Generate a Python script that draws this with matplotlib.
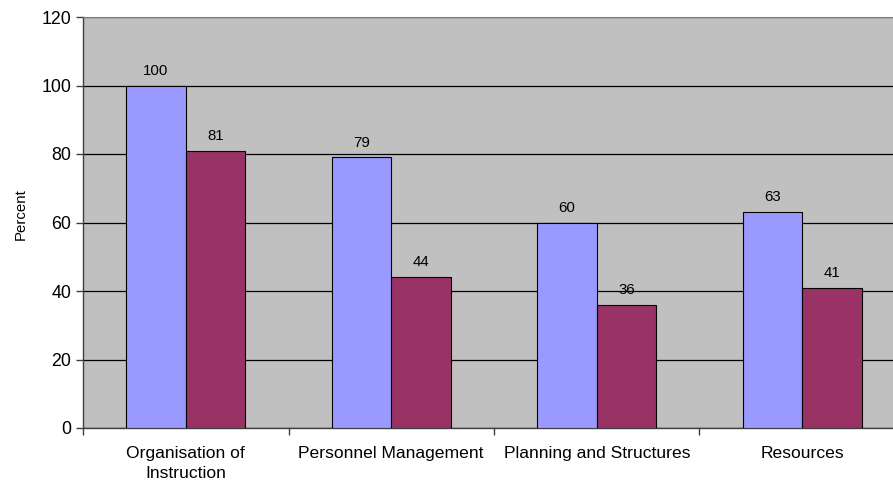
import matplotlib.pyplot as plt
import numpy as np

plt.rcParams['font.family'] = ['Liberation Sans', 'DejaVu Sans']

categories = ['Organisation of\nInstruction', 'Personnel Management',
              'Planning and Structures', 'Resources']
series_a = [100, 79, 60, 63]
series_b = [81, 44, 36, 41]

fig = plt.figure(figsize=(8.93, 4.92), dpi=100)
# plot area runs slightly past the right edge, like the original
ax = fig.add_axes([83 / 893, 1 - 428 / 492, 822 / 893, 411 / 492])
ax.set_facecolor('#C0C0C0')

x = np.arange(len(categories))
w = 0.29
bars_a = ax.bar(x, series_a, -w, align='edge', color='#9999FF',
                edgecolor='black', linewidth=0.8, zorder=3)
bars_b = ax.bar(x, series_b, w, align='edge', color='#993366',
                edgecolor='black', linewidth=0.8, zorder=3)

# value labels above the bars
for bars, vals in ((bars_a, series_a), (bars_b, series_b)):
    for rect, v in zip(bars, vals):
        ax.text(rect.get_x() + rect.get_width() / 2, v + 2.3, str(v),
                ha='center', va='bottom', fontsize=10.8)

ax.set_xlim(-0.5, len(categories) - 0.5)
ax.set_ylim(0, 120)
ax.set_yticks(np.arange(0, 121, 20))
ax.yaxis.grid(True, color='black', linewidth=0.9, zorder=1)
ax.set_axisbelow(True)

ax.set_xticks(x)
ax.set_xticklabels(categories, fontsize=12.6, linespacing=1.4)
ax.set_xticks(np.arange(-0.5, len(categories)), minor=True)
ax.tick_params(axis='x', which='major', length=0, pad=13)
ax.tick_params(axis='x', which='minor', length=5, width=1, color='#404040')
ax.tick_params(axis='y', length=5, width=1, color='#404040', labelsize=12.8)

ax.set_ylabel('Percent', fontsize=10.8)
ax.yaxis.set_label_coords(-0.067, 0.52)

for s in ('top', 'right'):
    ax.spines[s].set_color('#808080')
for s in ('left', 'bottom'):
    ax.spines[s].set_color('#404040')
    ax.spines[s].set_linewidth(1)

fig.savefig('out.png', dpi=100)
